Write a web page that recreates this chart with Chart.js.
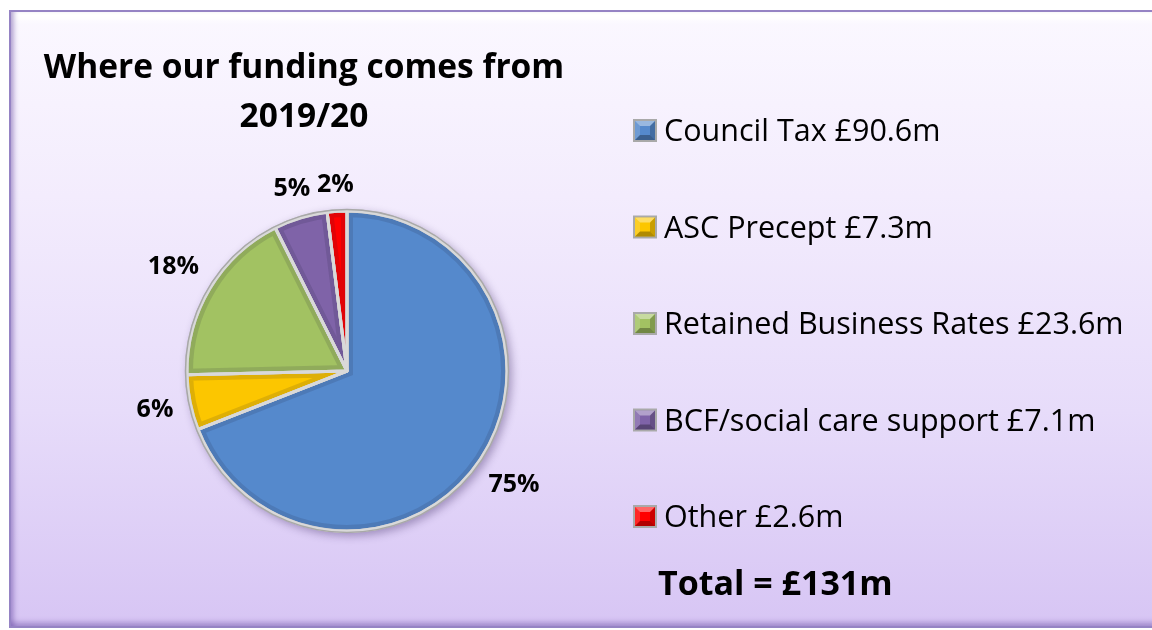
<!DOCTYPE html>
<html>
<head>
<meta charset="utf-8">
<title>Where our funding comes from 2019/20</title>
<script src="https://cdn.jsdelivr.net/npm/chart.js@4"></script>
<style>
  html, body { margin: 0; padding: 0; width: 1152px; height: 630px; overflow: hidden; background: #fff; }
  #frame {
    position: absolute; left: 9px; top: 10px; width: 1150px; height: 614px;
    border: 2px solid #9583c4; border-right: none;
    background: linear-gradient(to bottom, #fbf8ff 0%, #f3ecfd 30%, #e7dcfa 65%, #d7c5f4 100%);
    box-shadow: inset 6px 0 5px -3px rgba(100, 70, 160, .45),
                inset 0 -7px 5px -3px rgba(100, 70, 160, .4),
                inset 0 14px 6px -6px rgba(255, 255, 255, 1);
  }
  #chart { position: absolute; left: 0; top: 0; }
</style>
</head>
<body>
<div id="frame"></div>
<canvas id="chart" width="1152" height="630"></canvas>
<script>
// funding sources, £m
const sources = ["Council Tax", "ASC Precept", "Retained Business Rates", "BCF/social care support", "Other"];
const amounts = [90.6, 7.3, 23.6, 7.1, 2.6];
const shareLabels = ["75%", "6%", "18%", "5%", "2%"];
const sliceColours = ["#5589cc", "#fcc600", "#a2c262", "#7f63a8", "#ff0000"];
const chartTitle = ["Where our funding comes from", "2019/20"];

const FONT = "'Open Sans', 'Liberation Sans', sans-serif";

function arcPath(ctx, el) {
    ctx.beginPath();
    ctx.moveTo(el.x, el.y);
    ctx.arc(el.x, el.y, el.outerRadius, el.startAngle, el.endAngle);
    ctx.closePath();
}

// soft shadow under the pie
const pieShadow = {
    id: "pieShadow",
    beforeDatasetsDraw(chart) {
        const el = chart.getDatasetMeta(0).data[0];
        const ctx = chart.ctx;
        ctx.save();
        ctx.shadowColor = "rgba(40, 20, 80, 0.35)";
        ctx.shadowBlur = 8;
        ctx.shadowOffsetX = 3;
        ctx.shadowOffsetY = 3;
        ctx.fillStyle = "#bdbdbd";
        ctx.beginPath();
        ctx.arc(el.x, el.y, el.outerRadius + 2, 0, Math.PI * 2);
        ctx.fill();
        ctx.restore();
    }
};

// darker rim inside each slice, then the light dividers again
const sliceBevel = {
    id: "sliceBevel",
    afterDatasetsDraw(chart) {
        const ctx = chart.ctx;
        const arcs = chart.getDatasetMeta(0).data;
        arcs.forEach(el => {
            ctx.save();
            arcPath(ctx, el);
            ctx.clip();
            ctx.lineWidth = 12;
            ctx.strokeStyle = "rgba(20, 20, 50, 0.13)";
            ctx.stroke();
            ctx.restore();
        });
        ctx.save();
        ctx.lineJoin = "round";
        arcs.forEach(el => {
            arcPath(ctx, el);
            ctx.lineWidth = 3;
            ctx.strokeStyle = "#d9d9d9";
            ctx.stroke();
        });
        const el = arcs[0];
        ctx.beginPath();
        ctx.arc(el.x, el.y, el.outerRadius + 1.5, 0, Math.PI * 2);
        ctx.lineWidth = 1.5;
        ctx.strokeStyle = "#a8a8a8";
        ctx.stroke();
        ctx.restore();
    }
};

// percentage labels just outside each slice
const shareText = {
    id: "shareText",
    afterDatasetsDraw(chart) {
        const ctx = chart.ctx;
        ctx.save();
        ctx.font = "bold 25px " + FONT;
        ctx.fillStyle = "#000";
        ctx.textAlign = "center";
        ctx.textBaseline = "middle";
        chart.getDatasetMeta(0).data.forEach((el, i) => {
            const mid = (el.startAngle + el.endAngle) / 2;
            const c = Math.cos(mid), s = Math.sin(mid);
            const w = ctx.measureText(shareLabels[i]).width;
            const d = el.outerRadius + 16 + (w / 2) * Math.abs(c) + 9 * Math.abs(s);
            ctx.fillText(shareLabels[i], el.x + c * d, el.y + s * d);
        });
        ctx.restore();
    }
};

function bevelSquare(ctx, x, y, w, h, colour) {
    ctx.fillStyle = "#a9a9a9";
    ctx.fillRect(x, y, w, h);
    const ix = x + 2, iy = y + 2, iw = w - 4, ih = h - 4, b = 5;
    ctx.fillStyle = colour;
    ctx.fillRect(ix, iy, iw, ih);
    const facet = (pts, style) => {
        ctx.beginPath();
        ctx.moveTo(pts[0][0], pts[0][1]);
        pts.slice(1).forEach(p => ctx.lineTo(p[0], p[1]));
        ctx.closePath();
        ctx.fillStyle = style;
        ctx.fill();
    };
    facet([[ix, iy], [ix + iw, iy], [ix + iw - b, iy + b], [ix + b, iy + b]], "rgba(255,255,255,0.4)");
    facet([[ix, iy], [ix + b, iy + b], [ix + b, iy + ih - b], [ix, iy + ih]], "rgba(255,255,255,0.15)");
    facet([[ix + iw, iy], [ix + iw, iy + ih], [ix + iw - b, iy + ih - b], [ix + iw - b, iy + b]], "rgba(0,0,0,0.2)");
    facet([[ix, iy + ih], [ix + iw, iy + ih], [ix + iw - b, iy + ih - b], [ix + b, iy + ih - b]], "rgba(0,0,0,0.3)");
}

// title, legend and total
const sideText = {
    id: "sideText",
    afterDraw(chart) {
        const ctx = chart.ctx;
        const ds = chart.data.datasets[0];
        ctx.save();
        ctx.fillStyle = "#000";
        ctx.textBaseline = "alphabetic";

        ctx.font = "bold 33.5px " + FONT;
        ctx.textAlign = "center";
        ctx.fillText(chartTitle[0], 304, 78);
        ctx.fillText(chartTitle[1], 304, 127);

        ctx.textAlign = "left";
        ctx.font = "30.5px " + FONT;
        chart.data.labels.forEach((name, i) => {
            const base = 141 + i * 96.5;
            bevelSquare(ctx, 633, base - 22, 24, 23, ds.backgroundColor[i]);
            ctx.fillStyle = "#000";
            ctx.fillText(name + " £" + ds.data[i].toFixed(1) + "m", 664, base);
        });

        const total = ds.data.reduce((a, b) => a + b, 0);
        ctx.font = "bold 34px " + FONT;
        ctx.fillText("Total = £" + Math.round(total) + "m", 658, 595);
        ctx.restore();
    }
};

new Chart(document.getElementById("chart"), {
    type: "pie",
    data: {
        labels: sources,
        datasets: [{
            data: amounts,
            backgroundColor: sliceColours,
            borderColor: "#d9d9d9",
            borderWidth: 3,
            radius: 160
        }]
    },
    options: {
        responsive: false,
        animation: false,
        devicePixelRatio: 1,
        layout: { padding: { left: 187, right: 645, top: 211, bottom: 99 } },
        plugins: {
            legend: { display: false },
            tooltip: { enabled: false },
            title: { display: false }
        }
    },
    plugins: [pieShadow, sliceBevel, shareText, sideText]
});
</script>
</body>
</html>
